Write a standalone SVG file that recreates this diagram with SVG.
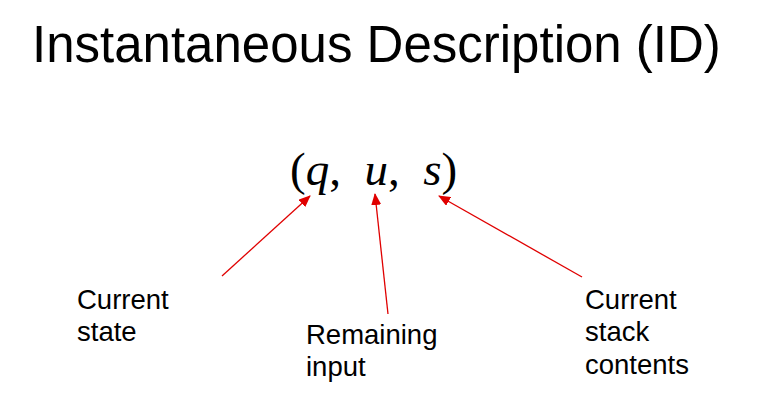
<svg xmlns="http://www.w3.org/2000/svg" width="776" height="414" viewBox="0 0 776 414">
<style>
.lbl{font-family:"Liberation Sans",Arial,sans-serif;font-size:27.5px;fill:#000}
.ar{stroke:#e00000;stroke-width:1.3;fill:none;marker-end:url(#ah)}
</style>
<defs><marker id="ah" markerWidth="12" markerHeight="10" refX="11" refY="5" orient="auto" markerUnits="userSpaceOnUse"><path d="M0,0 L12,5 L0,10 Z" fill="#e00000"/></marker></defs>
<rect width="776" height="414" fill="#fff"/>
<text x="32" y="62" font-family="Liberation Sans,Arial,sans-serif" font-size="51">Instantaneous Description (ID)</text>
<g id="formula"><text x="290" y="185" font-family="Liberation Serif,Times New Roman,serif" font-size="47" xml:space="preserve">(<tspan font-style="italic">q</tspan>,  <tspan font-style="italic">u</tspan>,  <tspan font-style="italic">s</tspan>)</text></g>
<g id="connectors">
<line class="ar" x1="222" y1="276" x2="310" y2="196"/>
<line class="ar" x1="388" y1="314" x2="375" y2="194"/>
<line class="ar" x1="582" y1="277" x2="439" y2="196"/>
</g>
<g id="state"><text class="lbl" x="77" y="309">Current</text><text class="lbl" x="77" y="341">state</text></g>
<g id="input"><text class="lbl" x="306" y="344">Remaining</text><text class="lbl" x="306" y="376">input</text></g>
<g id="stack"><text class="lbl" x="585" y="309">Current</text><text class="lbl" x="585" y="341">stack</text><text class="lbl" x="585" y="374">contents</text></g>
</svg>
